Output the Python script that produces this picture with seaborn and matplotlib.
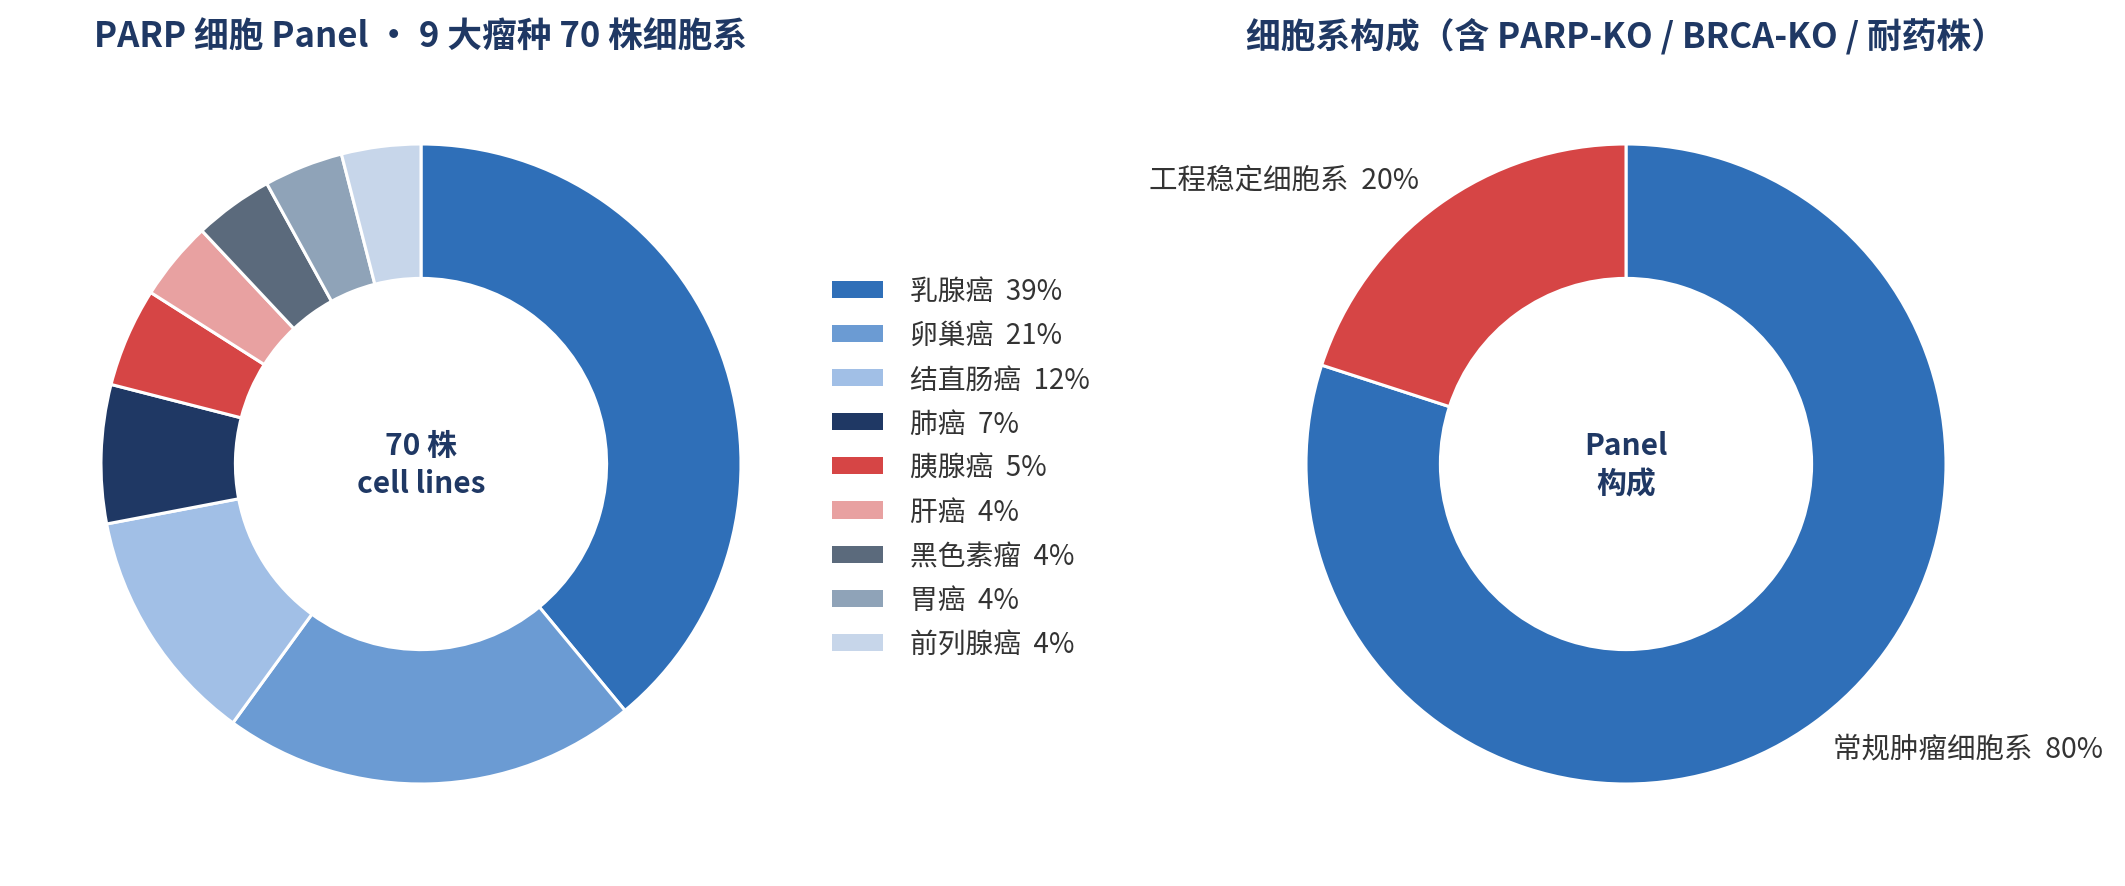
"""
PARP cell panel: two donut charts
- left : 70 cell lines split over 9 tumour types (with legend)
- right: panel composition, regular vs engineered lines
"""

import matplotlib
matplotlib.use("Agg")
import matplotlib.pyplot as plt
from matplotlib.patches import Patch
import seaborn as sns

# -----------------------------------------------
# DATA
# -----------------------------------------------
tumor_types = ["乳腺癌", "卵巢癌", "结直肠癌", "肺癌", "胰腺癌",
               "肝癌", "黑色素瘤", "胃癌", "前列腺癌"]
tumor_share = [39, 21, 12, 7, 5, 4, 4, 4, 4]
tumor_colors = ["#2f6fb8", "#6b9bd3", "#a1bfe6", "#1f3864", "#d64545",
                "#e8a1a1", "#5b6a7c", "#8fa3b8", "#c7d6ea"]

panel_parts = ["常规肿瘤细胞系", "工程稳定细胞系"]
panel_share = [80, 20]
panel_colors = ["#2f6fb8", "#d64545"]

left_title = "PARP 细胞 Panel • 9 大瘤种 70 株细胞系"
right_title = "细胞系构成（含 PARP-KO / BRCA-KO / 耐药株）"
left_center = "70 株\ncell lines"
right_center = "Panel\n构成"

# -----------------------------------------------
# STYLE
# -----------------------------------------------
sns.set_theme(style="white")
plt.rcParams["font.family"] = ["Noto Sans CJK SC", "DejaVu Sans"]

NAVY = "#1f3864"
TEXT = "#333333"
W, H = 2125, 887
R = 320  # donut radius in px

fig = plt.figure(figsize=(W / 100, H / 100), dpi=100)


def donut_axes(cx, cy):
    # axes box exactly the size of the donut, centred on (cx, cy) px
    return fig.add_axes([(cx - R) / W, (H - cy - R) / H, 2 * R / W, 2 * R / H])


wedge_style = {"width": 0.42, "edgecolor": "white", "linewidth": 2.2}

# -----------------------------------------------
# LEFT DONUT
# -----------------------------------------------
ax1 = donut_axes(421, 465)
ax1.pie(tumor_share, colors=tumor_colors, startangle=90, counterclock=False,
        wedgeprops=wedge_style)
ax1.set_xlim(-1, 1)
ax1.set_ylim(-1, 1)
ax1.text(0, 0, left_center, ha="center", va="center", fontsize=21.5,
         fontweight="bold", color=NAVY, linespacing=1.35)

handles = [Patch(facecolor=c, edgecolor="none") for c in tumor_colors]
labels = [f"{n}  {v}%" for n, v in zip(tumor_types, tumor_share)]
fig.legend(handles, labels, loc="upper left",
           bbox_to_anchor=(832 / W, 1 - 277 / H),
           frameon=False, fontsize=20, labelcolor=TEXT,
           handlelength=1.83, handleheight=0.58, handletextpad=0.97,
           labelspacing=0.51, borderpad=0, borderaxespad=0)

fig.text(421 / W, 1 - 36 / H, left_title, ha="center", va="center",
         fontsize=25, fontweight="bold", color=NAVY)

# -----------------------------------------------
# RIGHT DONUT
# -----------------------------------------------
ax2 = donut_axes(1626, 465)
wedges, texts = ax2.pie(
    panel_share, colors=panel_colors, startangle=90, counterclock=False,
    labels=[f"{n}  {v}%" for n, v in zip(panel_parts, panel_share)],
    labeldistance=1.1, wedgeprops=wedge_style,
    textprops={"fontsize": 20.5, "color": TEXT})
ax2.set_xlim(-1, 1)
ax2.set_ylim(-1, 1)
ax2.text(0, 0, right_center, ha="center", va="center", fontsize=21.5,
         fontweight="bold", color=NAVY, linespacing=1.35)

fig.text(1626 / W, 1 - 36 / H, right_title, ha="center", va="center",
         fontsize=25, fontweight="bold", color=NAVY)

plt.savefig("out.png", dpi=100, facecolor="white")
plt.close()
